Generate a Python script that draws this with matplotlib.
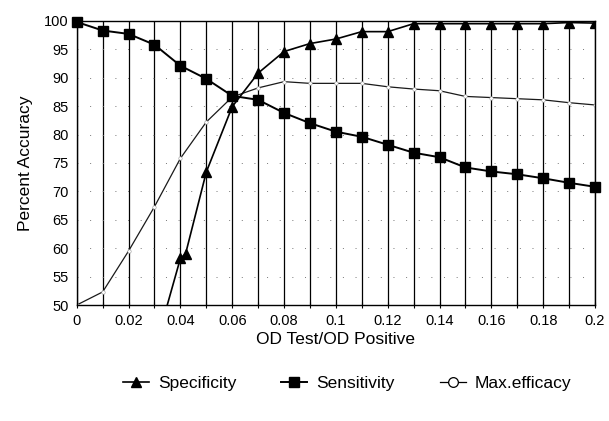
import matplotlib

matplotlib.use("Agg")
import matplotlib.pyplot as plt
from matplotlib.lines import Line2D
from matplotlib.ticker import MultipleLocator, FuncFormatter

plt.rcParams["font.family"] = ["Liberation Sans", "DejaVu Sans"]

# OD ratio cut-offs and accuracy at each cut-off (%)
od_ratio = [0.00, 0.01, 0.02, 0.03, 0.04, 0.05, 0.06, 0.07, 0.08, 0.09, 0.10,
            0.11, 0.12, 0.13, 0.14, 0.15, 0.16, 0.17, 0.18, 0.19, 0.20]
sensitivity = [99.8, 98.3, 97.7, 95.8, 92.1, 89.8, 86.8, 86.1, 83.8, 82.0, 80.5,
               79.6, 78.2, 76.8, 76.0, 74.2, 73.5, 73.0, 72.3, 71.5, 70.8]
max_efficacy = [50.0, 52.3, 59.5, 67.3, 75.8, 82.2, 86.6, 88.2, 89.3, 89.0, 89.0,
                89.0, 88.4, 88.0, 87.7, 86.7, 86.5, 86.3, 86.1, 85.6, 85.2]

spec_ratio = [0.03, 0.040, 0.042, 0.05, 0.06, 0.07, 0.08, 0.09, 0.10, 0.11, 0.12,
              0.13, 0.14, 0.15, 0.16, 0.17, 0.18, 0.19, 0.20]
specificity = [42.0, 58.2, 59.0, 73.4, 84.9, 90.8, 94.6, 96.0, 96.8, 98.1, 98.1,
               99.5, 99.5, 99.5, 99.5, 99.5, 99.5, 99.7, 99.6]

fig = plt.figure(figsize=(6.09, 4.21), dpi=100)
ax = fig.add_axes([0.126, 0.2755, 0.851, 0.675])
ax.set_xlim(0, 0.2)
ax.set_ylim(50, 100)

# solid vertical grid at every cut-off, sparse dotted horizontal grid
for x in od_ratio:
    ax.axvline(x, color="black", linewidth=0.9, zorder=1)
for y in range(55, 100, 5):
    ax.axhline(y, color="#777777", linewidth=0.7, linestyle=(0, (1, 12)), zorder=1)

ax.plot(spec_ratio, specificity, color="black", linewidth=1.2, marker="^",
        markersize=7, zorder=3, clip_on=True)
ax.plot(od_ratio, sensitivity, color="black", linewidth=1.4, marker="s",
        markersize=7.5, zorder=3, clip_on=False)
ax.plot(od_ratio, max_efficacy, color="#1a1a1a", linewidth=0.9, marker="o",
        markersize=2.5, markerfacecolor="white", markeredgecolor="#999999",
        markeredgewidth=0.4, zorder=2)

for side in ["top", "bottom", "left", "right"]:
    ax.spines[side].set_linewidth(1.0)
    ax.spines[side].set_color("black")

ax.xaxis.set_major_locator(MultipleLocator(0.02))
ax.xaxis.set_minor_locator(MultipleLocator(0.01))
ax.yaxis.set_major_locator(MultipleLocator(5))
ax.xaxis.set_major_formatter(FuncFormatter(lambda v, p: f"{v:.2f}".rstrip("0").rstrip(".") if v else "0"))
ax.tick_params(axis="x", which="both", direction="inout", length=5, width=0.8, labelsize=10.5, pad=4)
ax.tick_params(axis="y", direction="in", length=0, labelsize=10.5, pad=6)

ax.set_xlabel("OD Test/OD Positive", fontsize=12.5, labelpad=3)
ax.set_ylabel("Percent Accuracy", fontsize=12.5, labelpad=8)

handles = [
    Line2D([], [], color="black", linewidth=1.2, marker="^", markersize=7),
    Line2D([], [], color="black", linewidth=1.4, marker="s", markersize=7.5),
    Line2D([], [], color="black", linewidth=0.9, marker="o", markersize=7,
           markerfacecolor="white", markeredgewidth=0.9),
]
fig.legend(handles, ["Specificity", "Sensitivity", "Max.efficacy"],
           loc="center", bbox_to_anchor=(0.57, 0.09), ncol=3, frameon=False,
           fontsize=12.5, handlelength=1.5, handletextpad=0.5, columnspacing=2.6)

fig.savefig("out.png", dpi=100, facecolor="white")
